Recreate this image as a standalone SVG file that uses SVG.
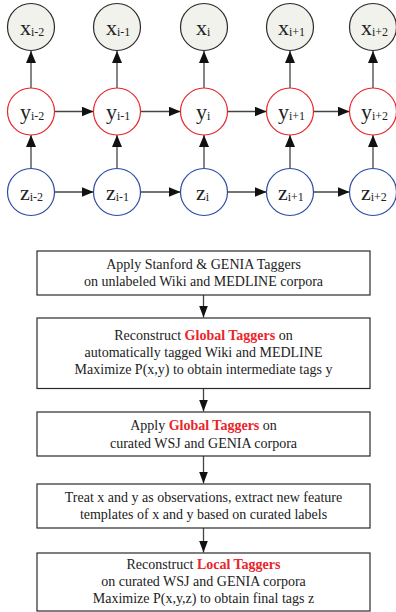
<svg xmlns="http://www.w3.org/2000/svg" width="396" height="612" viewBox="0 0 396 612">
<defs>
<style>
.xc{fill:#f2f2ed;stroke:#2a2a2a;stroke-width:1.2}
.yc{fill:#fff;stroke:#e8252b;stroke-width:1.2}
.zc{fill:#fff;stroke:#2c4aa0;stroke-width:1.2}
.lab{font-family:"Liberation Serif","Times New Roman",serif;font-size:22px;fill:#222}
.sub{font-size:12px}
.box{fill:#fff;stroke:#2a2a2a;stroke-width:1.2}
.bt{font-family:"Liberation Serif","Times New Roman",serif;font-size:14px;fill:#222;text-anchor:middle}
.red{fill:#e8252b;font-weight:bold}
.ln{stroke:#444;stroke-width:1.3;fill:none}
</style>
<marker id="ah" markerWidth="12" markerHeight="10" refX="12" refY="5" orient="auto" markerUnits="userSpaceOnUse">
<path d="M0,0 L12,5 L0,10 Z" fill="#111"/>
</marker>
<marker id="ah2" markerWidth="12" markerHeight="9" refX="12" refY="4.5" orient="auto" markerUnits="userSpaceOnUse">
<path d="M0,0 L12,4.5 L0,9 Z" fill="#111"/>
</marker>
</defs>
<g id="connectors">
<line class="ln" x1="31" y1="88" x2="31" y2="51" marker-end="url(#ah)"/>
<line class="ln" x1="117" y1="88" x2="117" y2="51" marker-end="url(#ah)"/>
<line class="ln" x1="204" y1="88" x2="204" y2="51" marker-end="url(#ah)"/>
<line class="ln" x1="290" y1="88" x2="290" y2="51" marker-end="url(#ah)"/>
<line class="ln" x1="373" y1="88" x2="373" y2="51" marker-end="url(#ah)"/>
<line class="ln" x1="31" y1="168" x2="31" y2="135" marker-end="url(#ah)"/>
<line class="ln" x1="117" y1="168" x2="117" y2="135" marker-end="url(#ah)"/>
<line class="ln" x1="204" y1="168" x2="204" y2="135" marker-end="url(#ah)"/>
<line class="ln" x1="290" y1="168" x2="290" y2="135" marker-end="url(#ah)"/>
<line class="ln" x1="373" y1="168" x2="373" y2="135" marker-end="url(#ah)"/>
<line class="ln" x1="54.5" y1="111.5" x2="93.5" y2="111.5" marker-end="url(#ah)"/>
<line class="ln" x1="140.5" y1="111.5" x2="180.5" y2="111.5" marker-end="url(#ah)"/>
<line class="ln" x1="227.5" y1="111.5" x2="266.5" y2="111.5" marker-end="url(#ah)"/>
<line class="ln" x1="313.5" y1="111.5" x2="349.5" y2="111.5" marker-end="url(#ah)"/>
<line class="ln" x1="54.5" y1="192" x2="93.5" y2="192" marker-end="url(#ah)"/>
<line class="ln" x1="140.5" y1="192" x2="180.5" y2="192" marker-end="url(#ah)"/>
<line class="ln" x1="227.5" y1="192" x2="266.5" y2="192" marker-end="url(#ah)"/>
<line class="ln" x1="313.5" y1="192" x2="349.5" y2="192" marker-end="url(#ah)"/>
<line class="ln" x1="203.5" y1="295" x2="203.5" y2="317.5" marker-end="url(#ah2)"/>
<line class="ln" x1="203.5" y1="388.5" x2="203.5" y2="411.5" marker-end="url(#ah2)"/>
<line class="ln" x1="203.5" y1="456" x2="203.5" y2="483.5" marker-end="url(#ah2)"/>
<line class="ln" x1="203.5" y1="528" x2="203.5" y2="552.5" marker-end="url(#ah2)"/>
</g>
<g id="x1"><circle class="xc" cx="31" cy="27" r="23.5"/><text class="lab" x="20" y="35">x<tspan class="sub" dy="1">i-2</tspan></text></g>
<g id="x2"><circle class="xc" cx="117" cy="27" r="23.5"/><text class="lab" x="106" y="35">x<tspan class="sub" dy="1">i-1</tspan></text></g>
<g id="x3"><circle class="xc" cx="204" cy="27" r="23.5"/><text class="lab" x="196" y="35">x<tspan class="sub" dy="1">i</tspan></text></g>
<g id="x4"><circle class="xc" cx="290" cy="27" r="23.5"/><text class="lab" x="278" y="35">x<tspan class="sub" dy="1">i+1</tspan></text></g>
<g id="x5"><circle class="xc" cx="373" cy="27" r="23.5"/><text class="lab" x="361" y="35">x<tspan class="sub" dy="1">i+2</tspan></text></g>
<g id="y1"><circle class="yc" cx="31" cy="111.5" r="23.5"/><text class="lab" x="20" y="119">y<tspan class="sub" dy="1">i-2</tspan></text></g>
<g id="y2"><circle class="yc" cx="117" cy="111.5" r="23.5"/><text class="lab" x="106" y="119">y<tspan class="sub" dy="1">i-1</tspan></text></g>
<g id="y3"><circle class="yc" cx="204" cy="111.5" r="23.5"/><text class="lab" x="196" y="119">y<tspan class="sub" dy="1">i</tspan></text></g>
<g id="y4"><circle class="yc" cx="290" cy="111.5" r="23.5"/><text class="lab" x="278" y="119">y<tspan class="sub" dy="1">i+1</tspan></text></g>
<g id="y5"><circle class="yc" cx="373" cy="111.5" r="23.5"/><text class="lab" x="361" y="119">y<tspan class="sub" dy="1">i+2</tspan></text></g>
<g id="z1"><circle class="zc" cx="31" cy="192" r="23.5"/><text class="lab" x="20" y="200">z<tspan class="sub" dy="1">i-2</tspan></text></g>
<g id="z2"><circle class="zc" cx="117" cy="192" r="23.5"/><text class="lab" x="106" y="200">z<tspan class="sub" dy="1">i-1</tspan></text></g>
<g id="z3"><circle class="zc" cx="204" cy="192" r="23.5"/><text class="lab" x="196" y="200">z<tspan class="sub" dy="1">i</tspan></text></g>
<g id="z4"><circle class="zc" cx="290" cy="192" r="23.5"/><text class="lab" x="278" y="200">z<tspan class="sub" dy="1">i+1</tspan></text></g>
<g id="z5"><circle class="zc" cx="373" cy="192" r="23.5"/><text class="lab" x="361" y="200">z<tspan class="sub" dy="1">i+2</tspan></text></g>
<g id="box1"><rect class="box" x="37" y="251" width="333" height="44"/>
<text class="bt" x="203.5" y="269">Apply Stanford &amp; GENIA Taggers</text>
<text class="bt" x="203.5" y="286">on unlabeled Wiki and MEDLINE corpora</text></g>
<g id="box2"><rect class="box" x="37" y="318" width="333" height="70.5"/>
<text class="bt" x="203.5" y="340">Reconstruct <tspan class="red">Global Taggers</tspan> on</text>
<text class="bt" x="203.5" y="357">automatically tagged Wiki and MEDLINE</text>
<text class="bt" x="203.5" y="374">Maximize P(x,y) to obtain intermediate tags y</text></g>
<g id="box3"><rect class="box" x="37" y="412" width="333" height="44"/>
<text class="bt" x="203.5" y="430">Apply <tspan class="red">Global Taggers</tspan> on</text>
<text class="bt" x="203.5" y="447.5">curated WSJ and GENIA corpora</text></g>
<g id="box4"><rect class="box" x="37" y="484" width="333" height="44"/>
<text class="bt" x="203.5" y="501.5">Treat x and y as observations, extract new feature</text>
<text class="bt" x="203.5" y="519">templates of x and y based on curated labels</text></g>
<g id="box5"><rect class="box" x="37" y="553" width="333" height="58"/>
<text class="bt" x="203.5" y="569">Reconstruct <tspan class="red">Local Taggers</tspan></text>
<text class="bt" x="203.5" y="586">on curated WSJ and GENIA corpora</text>
<text class="bt" x="203.5" y="603">Maximize P(x,y,z) to obtain final tags z</text></g>
</svg>
